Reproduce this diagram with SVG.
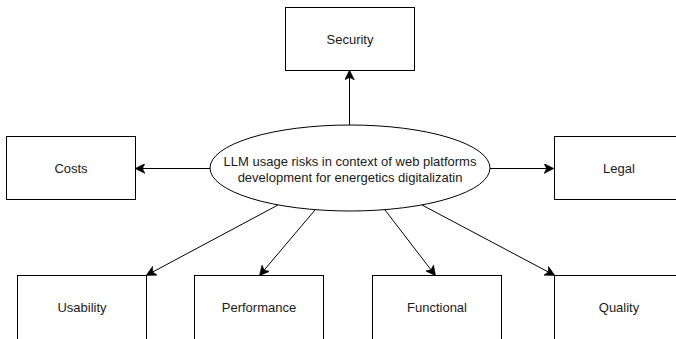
<svg xmlns="http://www.w3.org/2000/svg" width="676" height="339" viewBox="0 0 676 339">
  <style>
    .box { fill: #ffffff; stroke: #000000; stroke-width: 1; }
    .lbl { font-family: "Liberation Sans", Arial, Helvetica, sans-serif; font-size: 13px; fill: #1a1a1a; text-anchor: middle; dominant-baseline: central; }
    .edge { fill: none; stroke: #000000; stroke-width: 1; marker-end: url(#arrow); }
  </style>
  <defs>
    <marker id="arrow" viewBox="0 0 10 10" refX="9" refY="5" markerWidth="10" markerHeight="10" markerUnits="userSpaceOnUse" orient="auto">
      <path d="M0,0 L10,5 L0,10 L2.5,5 Z" fill="#000000" stroke="#000000" stroke-width="0.5"/>
    </marker>
  </defs>
  <rect width="676" height="339" fill="#ffffff"/>

  <g id="connectors">
    <path class="edge" d="M349.5,125 L349.5,71"/>
    <path class="edge" d="M210,168.5 L136,168.5"/>
    <path class="edge" d="M490,168.5 L553,168.5"/>
    <path class="edge" d="M278,205 L147,275"/>
    <path class="edge" d="M315,210 L260,275"/>
    <path class="edge" d="M385,210 L435,275"/>
    <path class="edge" d="M422,205 L554,275"/>
  </g>

  <g id="center">
    <ellipse class="box" cx="350" cy="168" rx="140" ry="43"/>
    <text class="lbl" x="350" y="161">LLM usage risks in context of web platforms</text>
    <text class="lbl" x="350" y="177">development for energetics digitalizatin</text>
  </g>
  <g id="security">
    <rect class="box" x="285.5" y="7.5" width="129" height="63"/>
    <text class="lbl" x="350" y="39">Security</text>
  </g>
  <g id="costs">
    <rect class="box" x="6.5" y="136.5" width="129" height="63"/>
    <text class="lbl" x="71" y="168">Costs</text>
  </g>
  <g id="legal">
    <rect class="box" x="554.5" y="136.5" width="129" height="63"/>
    <text class="lbl" x="619" y="168">Legal</text>
  </g>
  <g id="usability">
    <rect class="box" x="17.5" y="275.5" width="129" height="70"/>
    <text class="lbl" x="82" y="307">Usability</text>
  </g>
  <g id="performance">
    <rect class="box" x="194.5" y="275.5" width="129" height="70"/>
    <text class="lbl" x="259" y="307">Performance</text>
  </g>
  <g id="functional">
    <rect class="box" x="372.5" y="275.5" width="129" height="70"/>
    <text class="lbl" x="437" y="307">Functional</text>
  </g>
  <g id="quality">
    <rect class="box" x="554.5" y="275.5" width="129" height="70"/>
    <text class="lbl" x="619" y="307">Quality</text>
  </g>
</svg>
